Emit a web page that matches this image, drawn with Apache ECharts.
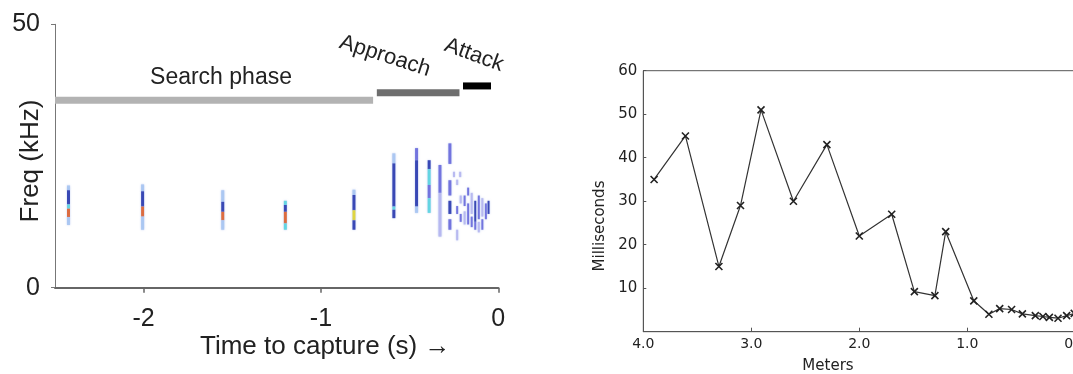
<!DOCTYPE html>
<html><head><meta charset="utf-8">
<script src="https://cdn.jsdelivr.net/npm/echarts@6/dist/echarts.min.js"></script>
<style>html,body{margin:0;padding:0;background:#fff}#c{width:1073px;height:374px}</style>
</head><body><div id="c"></div>
<script>
// ---------- Left panel data ----------
const leftXTicks = [-2, -1, 0];
const leftYTicks = [0, 50];
const phaseNames = ['Search phase', 'Approach', 'Attack'];
const phaseStart = [-2.5, -0.685, -0.199];
const phaseEnd = [-0.706, -0.219, -0.041];
const phaseFreq = [35.6, 37.0, 38.3];
// spectrogram streaks: [time (s), freq low (kHz), freq high (kHz), intensity level]
const spectroSegments = [
  [-2.424, 18.5, 19.4, 1], [-2.424, 15.8, 18.5, 2], [-2.424, 15.0, 15.8, 3], [-2.424, 13.4, 15.0, 5], [-2.424, 11.9, 13.4, 1],
  [-2.006, 18.3, 19.6, 1], [-2.006, 15.4, 18.3, 2], [-2.006, 13.5, 15.4, 5], [-2.006, 11.0, 13.5, 1],
  [-1.554, 16.3, 18.5, 1], [-1.554, 14.4, 16.3, 2], [-1.554, 12.8, 14.4, 5], [-1.554, 11.0, 12.8, 1],
  [-1.201, 15.7, 16.5, 3], [-1.201, 14.4, 15.7, 2], [-1.201, 12.2, 14.4, 5], [-1.201, 11.0, 12.2, 3],
  [-0.814, 17.6, 18.6, 1], [-0.814, 14.7, 17.6, 2], [-0.814, 12.8, 14.7, 4], [-0.814, 11.0, 12.8, 2],
  [-0.589, 23.6, 25.5, 1], [-0.589, 15.4, 23.6, 2], [-0.589, 14.8, 15.4, 3], [-0.589, 13.2, 14.8, 2],
  [-0.461, 24.2, 26.5, 6], [-0.461, 15.4, 24.2, 2], [-0.461, 14.2, 15.4, 1],
  [-0.390, 22.5, 24.2, 2], [-0.390, 19.5, 22.5, 3], [-0.390, 17.0, 19.5, 6], [-0.390, 14.2, 17.0, 3],
  [-0.329, 18.0, 23.3, 6], [-0.329, 9.7, 18.0, 7],
  [-0.273, 23.5, 27.4, 6], [-0.273, 17.5, 20.4, 6], [-0.273, 14.0, 16.5, 2], [-0.273, 11.0, 13.0, 6],
  [-0.250, 21.0, 22.0, 7], [-0.215, 21.0, 22.0, 7],
  [-0.232, 19.5, 20.5, 7], [-0.232, 14.0, 15.5, 6], [-0.232, 9.0, 11.0, 7],
  [-0.212, 16.0, 17.5, 7], [-0.212, 12.5, 14.0, 6],
  [-0.190, 15.5, 17.5, 6], [-0.190, 12.0, 14.5, 7],
  [-0.170, 17.5, 19.0, 6], [-0.170, 12.0, 16.0, 6],
  [-0.150, 14.0, 18.0, 7], [-0.150, 11.5, 13.5, 6],
  [-0.130, 12.5, 16.5, 2], [-0.130, 11.0, 12.5, 6],
  [-0.110, 13.0, 17.5, 6], [-0.110, 10.5, 12.5, 7],
  [-0.090, 13.5, 17.0, 7], [-0.090, 11.0, 13.0, 6],
  [-0.070, 13.0, 16.0, 6],
  [-0.055, 14.0, 16.5, 2]
];
// ---------- Right panel data ----------
const meters = [3.90, 3.61, 3.30, 3.10, 2.91, 2.61, 2.30, 2.00, 1.70, 1.49, 1.30, 1.20, 0.94, 0.80, 0.70, 0.59, 0.49, 0.37, 0.30, 0.24, 0.16, 0.08, 0.01];
const milliseconds = [35, 45, 15, 29, 51, 30, 43, 22, 27, 9.2, 8.3, 23, 7.1, 4.0, 5.3, 5.1, 4.1, 3.7, 3.5, 3.3, 3.1, 3.7, 4.2];

// ---------- styles ----------
const levelColors = {1: '#a8c6f2', 2: '#2a3aae', 3: '#5ad6e0', 4: '#e2d62e', 5: '#e0622c', 6: '#6a6adc', 7: '#b6b6f0'};
const phaseColors = ['#b3b3b3', '#6e6e6e', '#000000'];
const fontL = 'Liberation Sans, Arial, sans-serif';
const fontR = 'DejaVu Sans, sans-serif';

const chart = echarts.init(document.getElementById('c'), null, {renderer: 'canvas'});

const phaseData = phaseNames.map((n, i) => [phaseStart[i], phaseEnd[i], phaseFreq[i], i]);
const linePairs = meters.map((m, i) => [m, milliseconds[i]]);

chart.setOption({
  animation: false,
  grid: [
    {left: 55, top: 24.3, right: 574.7, bottom: 86.3, outerBoundsMode: 'none', containLabel: false},
    {left: 643.3, top: 70.7, right: -2.3, bottom: 42.3, outerBoundsMode: 'none', containLabel: false,
     show: true, borderColor: '#555', borderWidth: 1, backgroundColor: 'transparent'}
  ],
  xAxis: [
    {gridIndex: 0, type: 'value', min: -2.5, max: 0, interval: 0.5,
     axisLine: {onZero: false, lineStyle: {color: '#666', width: 2}},
     axisTick: {show: true, length: 5, customValues: leftXTicks, lineStyle: {color: '#666', width: 1.5}},
     axisLabel: {customValues: leftXTicks, color: '#222', fontSize: 25, fontFamily: fontL, margin: 19, formatter: v => String(v)},
     splitLine: {show: false}},
    {gridIndex: 1, type: 'value', min: 0, max: 4, interval: 1, inverse: true,
     axisLine: {onZero: false, lineStyle: {color: '#555', width: 1}},
     axisTick: {inside: true, length: 4, lineStyle: {color: '#555'}},
     axisLabel: {color: '#222', fontSize: 14, fontFamily: fontR, margin: 6, showMinLabel: true, showMaxLabel: true, formatter: v => v.toFixed(1)},
     splitLine: {show: false}}
  ],
  yAxis: [
    {gridIndex: 0, type: 'value', min: 0, max: 50, interval: 50,
     axisLine: {show: true, onZero: false, lineStyle: {color: '#777', width: 1}},
     axisTick: {show: true, length: 4, lineStyle: {color: '#777'}},
     axisLabel: {color: '#222', fontSize: 25, fontFamily: fontL, margin: 15},
     splitLine: {show: false}},
    {gridIndex: 1, type: 'value', min: 0, max: 60, interval: 10,
     axisLine: {show: true, onZero: false, lineStyle: {color: '#555', width: 1}},
     axisTick: {show: true, inside: true, length: 3, lineStyle: {color: '#555'}},
     axisLabel: {color: '#222', fontSize: 15, fontFamily: fontR, margin: 6, formatter: v => v === 0 ? '' : String(v)},
     splitLine: {show: false}}
  ],
  series: [
    {type: 'custom', xAxisIndex: 0, yAxisIndex: 0, data: spectroSegments, encode: {x: 0, y: [1, 2]},
     renderItem: function (params, api) {
       const t = api.value(0), f0 = api.value(1), f1 = api.value(2), lvl = api.value(3);
       const top = api.coord([t, f1]), bot = api.coord([t, f0]);
       const w = (t > -0.26) ? 2 : 3;
       return {type: 'rect', shape: {x: top[0] - w / 2, y: top[1], width: w, height: bot[1] - top[1]},
               style: {fill: levelColors[lvl], opacity: 0.9, shadowBlur: 2, shadowColor: 'rgba(120,150,230,0.6)'}};
     }},
    {type: 'custom', xAxisIndex: 0, yAxisIndex: 0, data: phaseData, encode: {x: [0, 1], y: 2},
     renderItem: function (params, api) {
       const a = api.coord([api.value(0), api.value(2)]), b = api.coord([api.value(1), api.value(2)]);
       const h = 7;
       return {type: 'rect', shape: {x: a[0], y: a[1] - h / 2, width: b[0] - a[0], height: h},
               style: {fill: phaseColors[api.value(3)]}};
     }},
    {type: 'line', xAxisIndex: 1, yAxisIndex: 1, data: linePairs,
     lineStyle: {color: '#333', width: 1.2},
     symbol: 'path://M0,0L10,10M10,0L0,10', symbolSize: 7,
     itemStyle: {color: '#222', borderColor: '#222', borderWidth: 1.6}}
  ],
  graphic: [
    {type: 'text', x: 221, y: 78, style: {text: phaseNames[0], font: '23px ' + fontL, fill: '#222', align: 'center', verticalAlign: 'middle'}},
    {type: 'text', x: 385, y: 56, rotation: -0.31, style: {text: phaseNames[1], font: '22px ' + fontL, fill: '#222', align: 'center', verticalAlign: 'middle'}},
    {type: 'text', x: 474, y: 55, rotation: -0.35, style: {text: phaseNames[2], font: '22px ' + fontL, fill: '#222', align: 'center', verticalAlign: 'middle'}},
    {type: 'text', x: 31, y: 161, rotation: Math.PI / 2, style: {text: 'Freq (kHz)', font: '26px ' + fontL, fill: '#222', align: 'center', verticalAlign: 'middle'}},
    {type: 'text', x: 200, y: 347, style: {text: 'Time to capture (s) \u2192', font: '26px ' + fontL, fill: '#222', align: 'left', verticalAlign: 'middle'}},
    {type: 'text', x: 600, y: 226, rotation: Math.PI / 2, style: {text: 'Milliseconds', font: '15px ' + fontR, fill: '#222', align: 'center', verticalAlign: 'middle'}},
    {type: 'text', x: 828, y: 366, style: {text: 'Meters', font: '15px ' + fontR, fill: '#222', align: 'center', verticalAlign: 'middle'}}
  ]
});
</script></body></html>
